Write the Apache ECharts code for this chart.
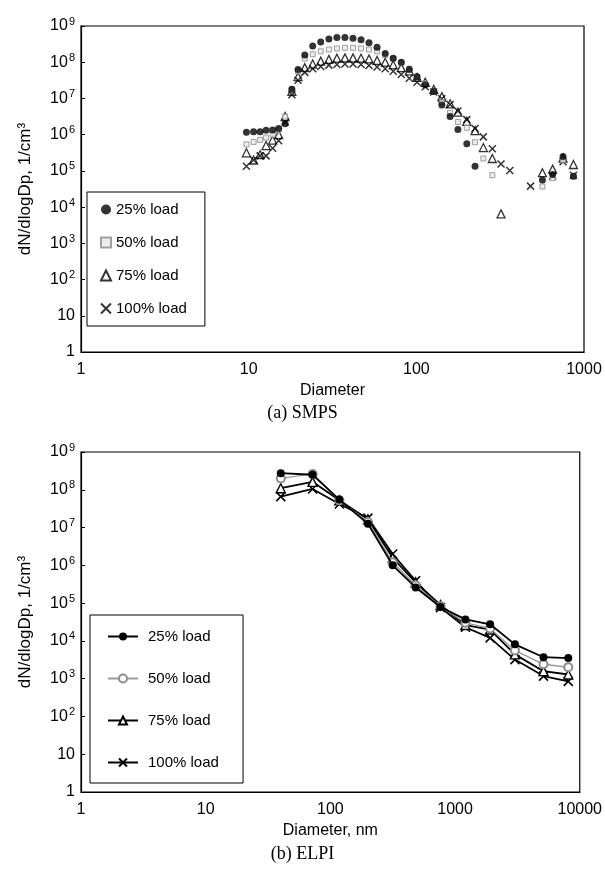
<!DOCTYPE html>
<html>
<head>
<meta charset="utf-8">
<script src="https://cdn.jsdelivr.net/npm/echarts@6/dist/echarts.min.js"></script>
<style>
html,body{margin:0;padding:0;background:#fff;}
#c{width:605px;height:872px;}
</style>
</head>
<body>
<div id="c"></div>
<script>
// ---------- DATA ----------
const seriesNames = ['25% load', '50% load', '75% load', '100% load'];

// (a) SMPS — diameters in nm
const smpsDiameter = [9.7, 10.7, 11.7, 12.7, 13.9, 15.1, 16.5, 18.1, 19.7, 21.6, 24.1, 26.9, 30.1, 33.6, 37.5, 41.9, 46.8, 52.2, 58.3, 65.2, 72.8, 81.3, 90.8, 101, 113, 127, 142, 159, 177, 200, 224, 251, 284, 320, 361, 480, 565, 650, 750, 865];
const smps25 = [1.17e6, 1.2e6, 1.2e6, 1.32e6, 1.35e6, 1.48e6, 2.0e6, 1.78e7, 6.3e7, 1.58e8, 2.82e8, 3.63e8, 4.37e8, 4.8e8, 4.8e8, 4.57e8, 4.17e8, 3.47e8, 2.57e8, 1.74e8, 1.29e8, 1.0e8, 6.3e7, 4.0e7, 2.4e7, 1.55e7, 6.6e6, 3.16e6, 1.38e6, 5.6e5, 1.35e5, null, null, null, null, null, 5.6e4, 7.9e4, 2.5e5, 7.1e4];
const smps50 = [5.4e5, 6.3e5, 7.2e5, 8.3e5, 1.0e6, 1.32e6, 3.16e6, 1.78e7, 5.6e7, 1.26e8, 1.66e8, 2.0e8, 2.24e8, 2.4e8, 2.5e8, 2.5e8, 2.4e8, 2.24e8, 2.0e8, 1.58e8, 1.26e8, 9.5e7, 6.6e7, 4.0e7, 2.6e7, 1.58e7, 7.9e6, 4.0e6, 2.24e6, 1.55e6, 6.2e5, 2.2e5, 7.6e4, null, null, null, 3.7e4, 6.3e4, 2.0e5, 7.1e4];
const smps75 = [3.16e5, 2.0e5, 2.8e5, 5.0e5, 7.1e5, 1.0e6, 3.16e6, 1.58e7, 4.0e7, 7.1e7, 8.9e7, 1.07e8, 1.2e8, 1.29e8, 1.32e8, 1.32e8, 1.29e8, 1.23e8, 1.12e8, 1.0e8, 8.5e7, 7.1e7, 5.75e7, 3.8e7, 2.8e7, 1.78e7, 1.12e7, 7.1e6, 4.2e6, 2.34e6, 1.29e6, 4.4e5, 2.2e5, 6.5e3, null, null, 8.9e4, 1.12e5, 2.24e5, 1.5e5];
const smps100 = [1.35e5, 2.0e5, 2.6e5, 2.6e5, 4.2e5, 6.8e5, 2.24e6, 1.26e7, 3.16e7, 5.25e7, 6.6e7, 7.6e7, 8.3e7, 8.7e7, 8.9e7, 8.9e7, 8.7e7, 8.1e7, 7.4e7, 6.6e7, 5.6e7, 4.6e7, 3.6e7, 2.8e7, 2.1e7, 1.51e7, 9.8e6, 6.8e6, 4.5e6, 2.6e6, 1.48e6, 8.7e5, 4.1e5, 1.55e5, 1.02e5, 3.8e4, null, 7.1e4, 1.78e5, 7.6e4];

// (b) ELPI — diameters in nm
const elpiDiameter = [40, 72, 118, 200, 316, 483, 764, 1210, 1910, 3020, 5120, 8090];
const elpi25 = [2.75e8, 2.5e8, 5.5e7, 1.26e7, 1.0e6, 2.6e5, 7.9e4, 3.7e4, 2.75e4, 8.1e3, 3.7e3, 3.5e3];
const elpi50 = [2.0e8, 2.63e8, 5.25e7, 1.41e7, 1.2e6, 2.95e5, 8.3e4, 3.0e4, 2.14e4, 5.6e3, 2.4e3, 2.0e3];
const elpi75 = [1.1e8, 1.62e8, 5.25e7, 1.66e7, 1.58e6, 3.55e5, 8.9e4, 2.63e4, 2.0e4, 4.4e3, 1.58e3, 1.29e3];
const elpi100 = [6.6e7, 1.05e8, 4.2e7, 1.78e7, 2.0e6, 3.9e5, 7.6e4, 2.3e4, 1.2e4, 3.2e3, 1.17e3, 850];

const yTitle = 'dN/dlogDp, 1/cm\u00B3';
const xTitleTop = 'Diameter';
const xTitleBottom = 'Diameter, nm';
const captionTop = '(a) SMPS';
const captionBottom = '(b) ELPI';

// ---------- BUILD ----------
function pairs(xs, ys) {
  const out = [];
  xs.forEach((x, i) => { if (ys[i] != null) out.push([x, ys[i]]); });
  return out;
}
const SANS = '"Liberation Sans", Arial, sans-serif';
const SERIF = '"Liberation Serif", "Times New Roman", serif';
const CROSS = 'path://M0,0L10,10M10,0L0,10';

function yLabel(v) {
  const e = Math.round(Math.log10(v));
  if (e === 0) return '1';
  if (e === 1) return '10';
  return '10{s|' + e + '}';
}
function yAxis(gi) {
  return {
    type: 'log', logBase: 10, gridIndex: gi, min: 1, max: 1e9, splitNumber: 9,
    name: yTitle, nameLocation: 'middle', nameGap: 47,
    nameTextStyle: { fontFamily: SANS, fontSize: 17, color: '#000' },
    axisLine: { show: true, lineStyle: { color: '#000', width: 1.2 } },
    axisTick: { show: true, inside: true, length: 4, lineStyle: { color: '#000' } },
    minorTick: { show: false },
    splitLine: { show: false },
    axisLabel: {
      formatter: yLabel, color: '#000', fontFamily: SANS, fontSize: 16, margin: 6,
      rich: { s: { fontFamily: SANS, fontSize: 11, color: '#000', verticalAlign: 'bottom', padding: [0, 0, 9, 1] } }
    }
  };
}
function xAxis(gi, max, split, name) {
  return {
    type: 'log', logBase: 10, gridIndex: gi, min: 1, max: max, splitNumber: split,
    name: name, nameLocation: 'middle', nameGap: 31,
    nameTextStyle: { fontFamily: SANS, fontSize: 16, color: '#000' },
    axisLine: { show: true, lineStyle: { color: '#000', width: 1.2 } },
    axisTick: { show: false },
    splitLine: { show: false },
    axisLabel: { color: '#000', fontFamily: SANS, fontSize: 16, margin: 10, formatter: v => String(Math.round(v)) }
  };
}

const topSymbols = [
  { symbol: 'circle', symbolSize: 7, itemStyle: { color: '#000' } },
  { symbol: 'rect', symbolSize: 5, itemStyle: { color: '#e8e8e8', borderColor: '#8a8a8a', borderWidth: 1 } },
  { symbol: 'triangle', symbolSize: 8, itemStyle: { color: 'rgba(255,255,255,0)', borderColor: '#000', borderWidth: 1.3 } },
  { symbol: CROSS, symbolSize: 7, itemStyle: { color: 'rgba(255,255,255,0)', borderColor: '#000', borderWidth: 1.5 } }
];
const smpsSets = [smps25, smps50, smps75, smps100];
const elpiSets = [elpi25, elpi50, elpi75, elpi100];

const series = [];
smpsSets.forEach((ys, i) => {
  series.push(Object.assign({
    name: seriesNames[i], type: 'scatter', xAxisIndex: 0, yAxisIndex: 0,
    data: pairs(smpsDiameter, ys), z: 10 - i
  }, topSymbols[i]));
});
const botStyles = [
  { symbol: 'circle', symbolSize: 8, itemStyle: { color: '#000' }, lineStyle: { color: '#000', width: 1.8 } },
  { symbol: 'emptyCircle', symbolSize: 8, itemStyle: { color: '#8c8c8c', borderWidth: 1.3 }, lineStyle: { color: '#9a9a9a', width: 1.4 } },
  { symbol: 'triangle', symbolSize: 9, itemStyle: { color: '#fff', borderColor: '#000', borderWidth: 1.4 }, lineStyle: { color: '#000', width: 1.8 } },
  { symbol: CROSS, symbolSize: 9, itemStyle: { color: 'rgba(255,255,255,0)', borderColor: '#000', borderWidth: 1.6 }, lineStyle: { color: '#000', width: 1.8 } }
];
elpiSets.forEach((ys, i) => {
  series.push(Object.assign({
    name: seriesNames[i] + ' ', type: 'line', xAxisIndex: 1, yAxisIndex: 1,
    data: pairs(elpiDiameter, ys), showAllSymbol: true, z: 10 - i
  }, botStyles[i]));
});

const option = {
  animation: false,
  backgroundColor: '#fff',
  grid: [
    { left: 81, top: 26, width: 503, height: 326, show: true, borderColor: '#000', borderWidth: 1.2, backgroundColor: 'transparent' },
    { left: 81, top: 452, width: 502, height: 340, show: true, borderColor: '#000', borderWidth: 1.2, backgroundColor: 'transparent' }
  ],
  xAxis: [xAxis(0, 1000, 3, xTitleTop), xAxis(1, 10000, 4, xTitleBottom)],
  yAxis: [yAxis(0), yAxis(1)],
  legend: [
    {
      data: seriesNames, orient: 'vertical', left: 87, top: 192,
      itemWidth: 10, itemHeight: 10, itemGap: 18,
      padding: [10, 18, 10, 13],
      borderColor: '#000', borderWidth: 1, backgroundColor: '#fff',
      textStyle: { fontFamily: SANS, fontSize: 15, color: '#000', lineHeight: 15 }
    },
    {
      data: seriesNames.map(n => n + ' '), orient: 'vertical', left: 90, top: 615,
      itemWidth: 30, itemHeight: 10, itemGap: 27,
      padding: [14, 20, 13, 17],
      borderColor: '#000', borderWidth: 1, backgroundColor: '#fff',
      textStyle: { fontFamily: SANS, fontSize: 15, color: '#000', lineHeight: 15, padding: [0, 0, 0, 5] }
    }
  ],
  graphic: [
    { type: 'text', left: 'center', top: 404, style: { text: captionTop, font: '18px ' + SERIF, fill: '#000', textAlign: 'center' }, x: -10 },
    { type: 'text', left: 'center', top: 845, style: { text: captionBottom, font: '18px ' + SERIF, fill: '#000', textAlign: 'center' } }
  ],
  series: series
};
const chart = echarts.init(document.getElementById('c'), null, { renderer: 'canvas' });
chart.setOption(option);
</script>
</body>
</html>
